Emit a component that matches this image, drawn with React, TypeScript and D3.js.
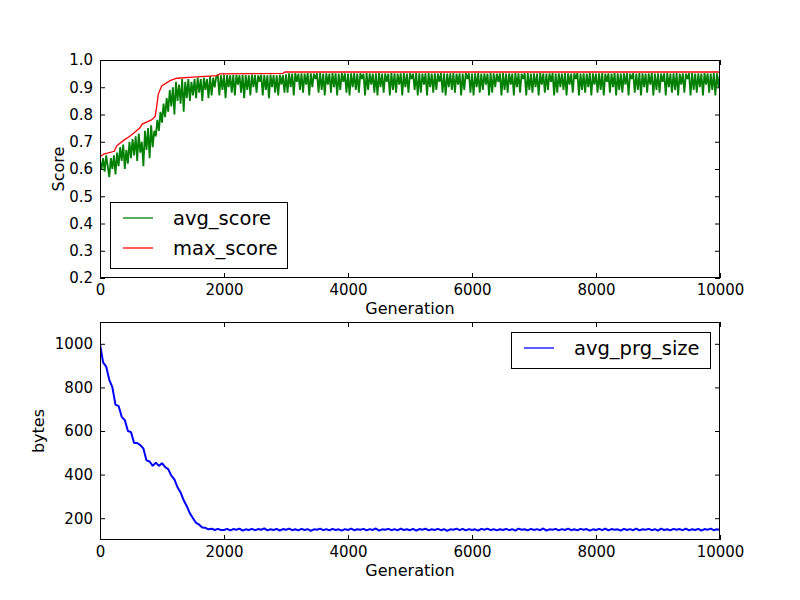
import * as d3 from "d3";
import { useEffect, useRef } from "react";

// avg_score sampled every 25 generations (0..10000)
const SCORE_STEP = 25;
const avgScore = [
  .63, .60, .64, .59, .65, .61, .57, .64, .60, .65, .58,
  .66, .61, .68, .63, .69, .60, .67, .62, .70, .64,
  .71, .65, .72, .63, .73, .66, .70, .61, .74, .67, .75, .64, .76, .68, .74,
  .72, .78, .74, .81, .77, .84, .79,
  .86, .81, .89, .83, .90, .80, .92, .85,
  .91, .84, .93, .81, .92, .86, .93, .85, .92, .87,
  .93, .86, .935, .88, .93, .85, .935, .89, .93, .86, .94, .87, .935, .90, .94,
  .945, .87, .944, .89, .946, .86, .945, .90, .944, .88,
  .946, .87, .945, .91, .944, .88, .946, .86, .945, .89,
  .944, .87, .946, .90, .945, .88, .944, .92, .946, .87,
  .945, .89, .944, .86, .946, .90, .945, .88, .944, .87,
  .946, .91, .945, .88, .947,
  .88, .951, .90, .950, .87, .952, .92, .950, .89, .951,
  .88, .950, .91, .952, .87, .951, .90, .950, .93, .951,
  .88, .952, .89, .950, .87, .951, .91, .950, .88, .952,
  .90, .951, .87, .950, .89, .952, .92, .951, .88, .950,
  .87, .951, .90, .952, .89, .950, .88, .951, .93, .950,
  .87, .952, .89, .951, .91, .950, .88, .951, .87, .952,
  .90, .950, .88, .951, .92, .950, .87, .952, .89, .951,
  .88, .950, .91, .951, .87, .952, .90, .950, .88, .951,
  .93, .950, .89, .952, .87, .951, .88, .950, .91, .951,
  .87, .952, .90, .950, .88, .951, .89, .950, .92, .952,
  .88, .951, .87, .950, .90, .951, .89, .952, .88, .950,
  .91, .951, .87, .950, .89, .952, .93, .951, .88, .950,
  .87, .951, .90, .952, .88, .950, .89, .951, .91, .950,
  .87, .952, .88, .951, .90, .950, .92, .951, .87, .952,
  .89, .950, .88, .951, .91, .950, .87, .952, .90, .951,
  .88, .950, .93, .951, .87, .952, .89, .950, .88, .951,
  .90, .950, .87, .952, .91, .951, .88, .950, .89, .951,
  .92, .952, .87, .950, .88, .951, .90, .950, .89, .952,
  .87, .951, .91, .950, .88, .951, .93, .952, .87, .950,
  .89, .951, .88, .950, .90, .952, .87, .951, .91, .950,
  .88, .951, .89, .952, .87, .950, .92, .951, .88, .950,
  .90, .952, .87, .951, .89, .950, .88, .951, .91, .952,
  .87, .950, .93, .951, .88, .950, .89, .952, .87, .951,
  .90, .950, .88, .951, .91, .952, .87, .950, .89, .951,
  .88, .950, .92, .951, .87, .952, .90, .950, .88, .951,
  .89, .952, .87, .950, .91, .951, .88, .950, .93, .951,
  .87, .952, .89, .950, .88, .951, .90, .950, .87, .952,
  .91, .951, .88, .950, .89, .952, .87, .951, .90, .950,
];

// max_score breakpoints
const maxGen = [0, 60, 230, 270, 380, 480, 560, 640, 680, 830, 890, 915, 940, 995, 1130, 1240, 1500, 1880, 1935, 2950, 2985, 10000];
const maxScore = [.645, .655, .665, .685, .705, .72, .735, .75, .765, .78, .793, .83, .875, .905, .924, .933, .937, .943, .949, .951, .956, .956];

// avg_prg_size sampled every 50 generations
const SIZE_STEP = 50;
const avgPrgSize = [
  1000, 915, 895, 835, 800, 720, 715, 665, 650, 600,
  595, 545, 545, 535, 520, 465, 460, 440, 455, 440,
  452, 435, 425, 395, 378, 342, 318, 282, 255, 222,
  200, 178, 170, 157, 156, 149, 152, 146, 151, 146,
  146, 151, 144, 150, 147, 152, 143, 149, 146, 151,
  145, 150, 147, 153, 144, 149, 146, 151, 143, 150,
  147, 152, 145, 149, 144, 151, 146, 150, 142, 149,
  147, 152, 145, 150, 144, 151, 146, 149, 143, 150,
  146, 152, 145, 149, 147, 151, 144, 150, 146, 153,
  143, 149, 147, 151, 145, 150, 144, 152, 146, 149,
  145, 151, 143, 150, 147, 152, 144, 149, 146, 151,
  145, 150, 142, 149, 147, 152, 145, 151, 144, 150,
  146, 149, 143, 151, 147, 152, 145, 150, 144, 149,
  146, 151, 145, 150, 143, 152, 147, 149, 144, 151,
  146, 150, 145, 153, 143, 149, 147, 151, 144, 150,
  146, 152, 145, 149, 144, 151, 147, 150, 143, 149,
  146, 151, 145, 152, 144, 150, 147, 149, 143, 151,
  146, 150, 145, 152, 144, 149, 147, 151, 145, 150,
  143, 152, 146, 149, 144, 151, 147, 150, 145, 152,
  144, 149, 146, 151, 143, 150, 147, 152, 145, 149,
  146,
];

const genTicks = [0, 2000, 4000, 6000, 8000, 10000];
const scoreTicks = [0.2, 0.3, 0.4, 0.5, 0.6, 0.7, 0.8, 0.9, 1.0];
const sizeTicks = [200, 400, 600, 800, 1000];

const FONT = "DejaVu Sans, sans-serif";

export default function App() {
  const svgRef = useRef<SVGSVGElement | null>(null);

  useEffect(() => {
    if (!svgRef.current) return;
    const svg = d3.select(svgRef.current);
    svg.selectAll("*").remove();

    const left = 100;
    const right = 720;
    const x = d3.scaleLinear().domain([0, 10000]).range([left, right]);

    // one subplot: ticks all round, labels
    const axes = (top: number, bottom: number, y: d3.ScaleLinear<number, number>, yTicks: number[], yFmt: (d: number) => string, yLabel: string, yLabelX: number) => {
      const g = svg.append("g");
      const style = (a: d3.Selection<SVGGElement, unknown, null, undefined>) => {
        a.select(".domain").remove();
        a.selectAll("line").attr("stroke", "#000");
        a.selectAll("text").attr("font-size", 15).attr("font-family", FONT).attr("fill", "#000");
      };
      g.append("g").attr("transform", `translate(0,${bottom})`)
        .call(d3.axisBottom(x).tickValues(genTicks).tickFormat(d3.format("d") as any).tickSize(-5).tickSizeOuter(0).tickPadding(6))
        .call(style);
      g.append("g").attr("transform", `translate(0,${top})`)
        .call(d3.axisTop(x).tickValues(genTicks).tickFormat(() => "").tickSize(-5).tickSizeOuter(0))
        .call(style);
      g.append("g").attr("transform", `translate(${left},0)`)
        .call(d3.axisLeft(y).tickValues(yTicks).tickFormat(yFmt as any).tickSize(-5).tickSizeOuter(0).tickPadding(7))
        .call(style);
      g.append("g").attr("transform", `translate(${right},0)`)
        .call(d3.axisRight(y).tickValues(yTicks).tickFormat(() => "").tickSize(-5).tickSizeOuter(0))
        .call(style);

      g.append("text").attr("x", (left + right) / 2).attr("y", bottom + 35.5)
        .attr("text-anchor", "middle").attr("font-size", 16).attr("font-family", FONT)
        .text("Generation");
      g.append("text").attr("transform", `translate(${yLabelX},${(top + bottom) / 2}) rotate(-90)`)
        .attr("text-anchor", "middle").attr("font-size", 16).attr("font-family", FONT)
        .text(yLabel);
      return g;
    };

    const frame = (top: number, bottom: number) => {
      svg.append("rect").attr("x", left + 0.5).attr("y", top + 0.5)
        .attr("width", right - left - 1).attr("height", bottom - top - 1)
        .attr("fill", "none").attr("stroke", "#000").attr("stroke-width", 1);
    };

    const legend = (bx: number, by: number, bw: number, bh: number, items: [string, string, number][], textX: number) => {
      svg.append("rect").attr("x", bx + 0.5).attr("y", by + 0.5).attr("width", bw).attr("height", bh)
        .attr("fill", "#fff").attr("stroke", "#000").attr("stroke-width", 1);
      items.forEach(([label, color, ly]) => {
        svg.append("line").attr("x1", bx + 13).attr("x2", bx + 43).attr("y1", ly).attr("y2", ly)
          .attr("stroke", color).attr("stroke-width", 1.3);
        svg.append("text").attr("x", textX).attr("y", ly + 7)
          .attr("font-size", 19.5).attr("font-family", FONT).attr("fill", "#000").text(label);
      });
    };

    // clip lines to the plot area
    const defs = svg.append("defs");
    const clip = (id: string, top: number, bottom: number) => {
      defs.append("clipPath").attr("id", id)
        .append("rect").attr("x", left).attr("y", top).attr("width", right - left).attr("height", bottom - top);
      return `url(#${id})`;
    };

    // ---- top: score ----
    const yScore = d3.scaleLinear().domain([0.2, 1.0]).range([278, 60]);
    axes(60, 278, yScore, scoreTicks, d3.format(".1f"), "Score", 64);
    const clipTop = clip("clip-top", 60, 278);

    svg.append("path").datum(avgScore)
      .attr("clip-path", clipTop)
      .attr("d", d3.line<number>().x((_, i) => x(i * SCORE_STEP)).y(d => yScore(d)))
      .attr("fill", "none").attr("stroke", "#008000").attr("stroke-width", 1.8)
      .attr("stroke-linejoin", "bevel");
    svg.append("path").datum(maxGen)
      .attr("clip-path", clipTop)
      .attr("d", d3.line<number>().x(d => x(d)).y((_, i) => yScore(maxScore[i])))
      .attr("fill", "none").attr("stroke", "#ff0000").attr("stroke-width", 1.3);
    frame(60, 278);
    legend(110, 202, 177, 66, [["avg_score", "#008000", 218], ["max_score", "#ff0000", 248]], 173);

    // ---- bottom: program size ----
    const ySize = d3.scaleLinear().domain([100, 1100]).range([540, 322]);
    axes(322, 540, ySize, sizeTicks, d3.format("d"), "bytes", 44);
    const clipBottom = clip("clip-bottom", 322, 540);

    svg.append("path").datum(avgPrgSize)
      .attr("clip-path", clipBottom)
      .attr("d", d3.line<number>().x((_, i) => x(i * SIZE_STEP)).y(d => ySize(d)))
      .attr("fill", "none").attr("stroke", "#0000ff").attr("stroke-width", 2)
      .attr("stroke-linejoin", "bevel");
    frame(322, 540);
    legend(511, 332, 199, 36, [["avg_prg_size", "#0000ff", 348]], 574);
  }, []);

  return (
    <svg ref={svgRef} width={800} height={600}
      style={{ position: "absolute", left: 0, top: 0, background: "#fff" }} />
  );
}
